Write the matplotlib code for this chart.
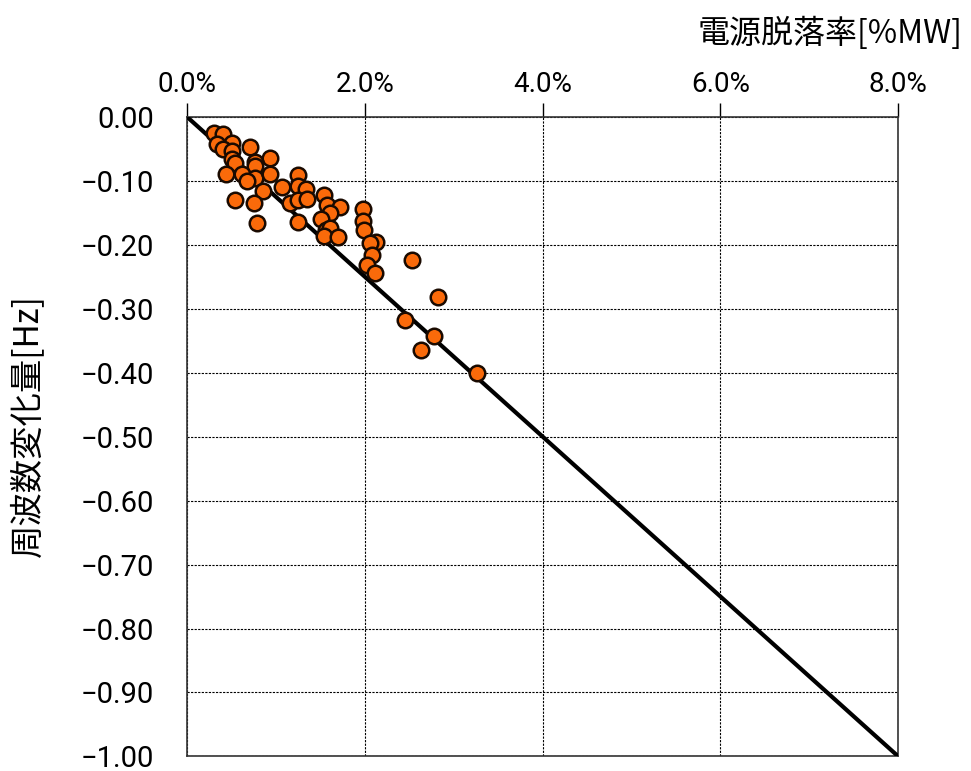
import matplotlib
matplotlib.use("Agg")
import matplotlib.pyplot as plt
from matplotlib.ticker import FixedLocator, FixedFormatter

# 電源脱落率 [%MW] と周波数変化量 [Hz] の実績
drop_rate = [0.30, 0.40, 0.50, 0.33, 0.40, 0.50, 0.71, 0.50, 0.93, 0.54,
             0.76, 0.76, 0.44, 0.62, 0.76, 0.93, 0.67, 1.25, 1.07, 1.25,
             1.33, 0.85, 0.54, 0.75, 1.15, 1.25, 1.35, 1.54, 1.57, 1.72,
             1.61, 1.50, 1.24, 0.78, 1.56, 1.61, 1.54, 1.69, 1.98, 1.98,
             1.99, 2.12, 2.05, 2.08, 2.02, 2.11, 2.53, 2.82, 2.45, 2.77,
             2.63, 3.26]
freq_change = [-0.024, -0.027, -0.040, -0.042, -0.050, -0.053, -0.046, -0.066, -0.064, -0.071,
               -0.070, -0.076, -0.089, -0.089, -0.095, -0.089, -0.100, -0.091, -0.110, -0.108,
               -0.112, -0.116, -0.129, -0.134, -0.134, -0.129, -0.128, -0.121, -0.137, -0.141,
               -0.150, -0.159, -0.164, -0.166, -0.176, -0.173, -0.186, -0.187, -0.143, -0.163,
               -0.176, -0.196, -0.197, -0.216, -0.231, -0.244, -0.223, -0.281, -0.318, -0.342,
               -0.365, -0.401]

# 近似直線 (0%, 0Hz) - (8%, -1Hz)
line_x = [0.0, 8.0]
line_y = [0.0, -1.0]

x_ticks = [0, 2, 4, 6, 8]
x_labels = ["0.0%", "2.0%", "4.0%", "6.0%", "8.0%"]
y_ticks = [0.0, -0.1, -0.2, -0.3, -0.4, -0.5, -0.6, -0.7, -0.8, -0.9, -1.0]
y_labels = ["0.00", "\u22120.10", "\u22120.20", "\u22120.30", "\u22120.40", "\u22120.50",
            "\u22120.60", "\u22120.70", "\u22120.80", "\u22120.90", "\u22121.00"]

num_font = ["Roboto", "Noto Sans CJK JP"]
jp_font = ["Noto Sans CJK JP", "DejaVu Sans"]

fig = plt.figure(figsize=(9.71, 7.71), dpi=100)
ax = fig.add_axes([0.193, 0.019, 0.732, 0.829])

ax.plot(line_x, line_y, color="black", linewidth=3.0, zorder=3, solid_capstyle="butt")
ax.scatter(drop_rate, freq_change, s=125, facecolor="#fa6a0a", edgecolor="#1a0a00",
           linewidth=1.8, zorder=4, clip_on=False)

ax.set_xlim(0, 8)
ax.set_ylim(-1.0, 0.0)

ax.xaxis.set_major_locator(FixedLocator(x_ticks))
ax.xaxis.set_major_formatter(FixedFormatter(x_labels))
ax.yaxis.set_major_locator(FixedLocator(y_ticks))
ax.yaxis.set_major_formatter(FixedFormatter(y_labels))

ax.xaxis.tick_top()
ax.tick_params(axis="x", direction="out", length=10, width=1.0, pad=4, labelsize=20,
               top=True, bottom=False)
ax.tick_params(axis="y", length=0, pad=24, labelsize=21)
for lbl in ax.get_xticklabels() + ax.get_yticklabels():
    lbl.set_family(num_font)

ax.grid(True, color="black", linestyle=(0, (2, 1.2)), linewidth=0.8)
ax.set_axisbelow(True)
for sp in ax.spines.values():
    sp.set_color("#333333")
    sp.set_linewidth(1.2)

fig.text(0.991, 0.957, "電源脱落率[%MW]", ha="right", va="center",
         fontsize=23, family=jp_font)
fig.text(0.028, 0.448, "周波数変化量[Hz]", ha="center", va="center",
         rotation=90, fontsize=24, family=jp_font)

fig.savefig("out.png", dpi=100)
